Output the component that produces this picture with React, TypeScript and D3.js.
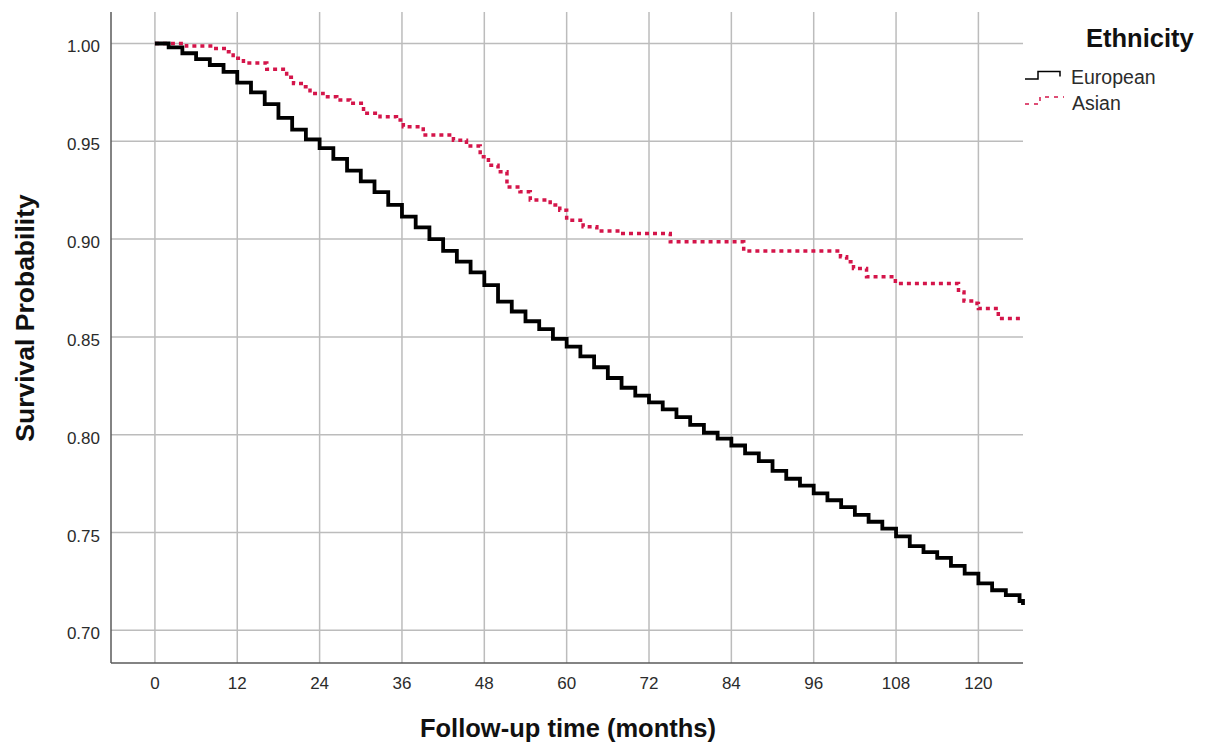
import React from "react";
import * as d3 from "d3";

const xTicks = [0, 12, 24, 36, 48, 60, 72, 84, 96, 108, 120];
const yTicks = [0.7, 0.75, 0.8, 0.85, 0.9, 0.95, 1.0];

// European: [months, survival]
const europeanTime = [0,2,4,6,8,10,12,14,16,18,20,22,24,26,28,30,32,34,36,38,40,42,44,46,48,50,52,54,56,58,60,62,64,66,68,70,72,74,76,78,80,82,84,86,88,90,92,94,96,98,100,102,104,106,108,110,112,114,116,118,120,122,124,126,126.5];
const europeanSurv = [1.0,0.998,0.995,0.992,0.989,0.9855,0.98,0.975,0.969,0.962,0.956,0.951,0.9465,0.941,0.935,0.9295,0.924,0.9175,0.9115,0.906,0.9,0.894,0.8885,0.883,0.8765,0.868,0.863,0.858,0.854,0.849,0.845,0.84,0.8345,0.829,0.824,0.82,0.8165,0.813,0.809,0.805,0.801,0.798,0.7945,0.7905,0.7865,0.7815,0.7775,0.774,0.77,0.7665,0.763,0.759,0.7555,0.752,0.748,0.743,0.74,0.737,0.733,0.729,0.724,0.7205,0.718,0.715,0.713];

// Asian: [months, survival]
const asianTime = [0,4.6,8.5,10.4,11.4,12.9,16.3,19.2,20.2,21.6,22.6,24.5,26.5,28.4,30.4,32.8,35.2,36.2,39.1,43.5,45.4,47.4,48.6,50.0,51.3,53.2,54.7,57.6,59.0,60.0,62.4,64.4,67.8,75.1,85.8,99.9,100.8,101.8,103.7,107.9,117.1,117.9,119.8,120.0,122.9,126.5];
const asianSurv = [1.0,0.9987,0.9975,0.9958,0.9924,0.99,0.9868,0.9827,0.9796,0.9779,0.9745,0.9728,0.9711,0.9694,0.9643,0.9626,0.9609,0.9574,0.9532,0.9506,0.9476,0.9421,0.9378,0.9344,0.9267,0.9242,0.92,0.9174,0.9148,0.9097,0.9063,0.9042,0.9029,0.8986,0.8939,0.891,0.8884,0.885,0.8807,0.8773,0.873,0.8683,0.8671,0.8645,0.8594,0.8594];

const legendTitle = "Ethnicity";
const seriesNames = ["European", "Asian"];

const FONT = "'Liberation Sans', Arial, sans-serif";
const RED = "#d4154a";

export default function App() {
  const W = 1205, H = 747;
  const left = 111, right = 1023, top = 12, bottom = 663;
  const x = d3.scaleLinear().domain([-6.4, 126.5]).range([left, right]);
  const y = d3.scaleLinear().domain([0.6833, 1.0161]).range([bottom, top]);

  const line = d3.line<[number, number]>()
    .x(d => x(d[0]))
    .y(d => y(d[1]))
    .curve(d3.curveStepAfter);

  const euro: [number, number][] = europeanTime.map((t, i) => [t, europeanSurv[i]]);
  const asia: [number, number][] = asianTime.map((t, i) => [t, asianSurv[i]]);

  return (
    <svg width={W} height={H} style={{ position: "absolute", left: 0, top: 0, background: "#fff" }}>
      <rect x={0} y={0} width={W} height={H} fill="#fff" />
      {/* grid */}
      {xTicks.map(t => (
        <line key={"gx" + t} x1={x(t)} x2={x(t)} y1={top} y2={bottom} stroke="#bcbcbc" strokeWidth={1.5} />
      ))}
      {yTicks.map(t => (
        <line key={"gy" + t} x1={left} x2={right} y1={y(t)} y2={y(t)} stroke="#bcbcbc" strokeWidth={1.5} />
      ))}
      {/* axes */}
      <line x1={left} x2={left} y1={top} y2={bottom} stroke="#5a5a5a" strokeWidth={1.5} />
      <line x1={left} x2={right} y1={bottom} y2={bottom} stroke="#5a5a5a" strokeWidth={1.5} />
      {/* tick labels */}
      {xTicks.map(t => (
        <text key={"tx" + t} x={x(t)} y={689} textAnchor="middle" fontFamily={FONT} fontSize={17} fill="#2b2b2b">{t}</text>
      ))}
      {yTicks.map(t => (
        <text key={"ty" + t} x={100} y={y(t) + 9} textAnchor="end" fontFamily={FONT} fontSize={17} fill="#2b2b2b">{t.toFixed(2)}</text>
      ))}
      {/* axis titles */}
      <text x={568} y={737} textAnchor="middle" fontFamily={FONT} fontSize={25.5} fontWeight="bold" fill="#111">Follow-up time (months)</text>
      <text transform={`translate(34,${318}) rotate(-90)`} textAnchor="middle" fontFamily={FONT} fontSize={26.5} fontWeight="bold" fill="#111">Survival Probability</text>
      {/* curves */}
      <path d={line(asia) || ""} fill="none" stroke={RED} strokeWidth={3.5} strokeDasharray="4 4" />
      <path d={line(euro) || ""} fill="none" stroke="#000" strokeWidth={3.8} strokeLinejoin="miter" />
      {/* legend */}
      <text x={1086} y={47} fontFamily={FONT} fontSize={25.5} fontWeight="bold" fill="#111">{legendTitle}</text>
      <path d="M1025,79 H1038 V71.5 H1060 V76.5" fill="none" stroke="#000" strokeWidth={1.5} />
      <text x={1071} y={84} fontFamily={FONT} fontSize={19.5} fill="#2b2b2b">{seriesNames[0]}</text>
      <path d="M1025,104 H1040 V97 H1064" fill="none" stroke={RED} strokeWidth={1.5} strokeDasharray="4 5" />
      <text x={1072} y={110} fontFamily={FONT} fontSize={19.5} fill="#2b2b2b">{seriesNames[1]}</text>
    </svg>
  );
}
